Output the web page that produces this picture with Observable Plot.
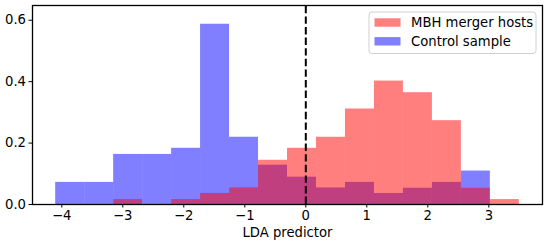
<!DOCTYPE html>
<html>
<head>
<meta charset="utf-8">
<script src="https://cdn.jsdelivr.net/npm/d3@7"></script>
<script src="https://cdn.jsdelivr.net/npm/@observablehq/plot@0.6"></script>
<style>
  html, body { margin: 0; padding: 0; background: white; }
  #chart svg text { font-size: 13.2px !important; font-family: "DejaVu Sans", sans-serif !important; }
</style>
</head>
<body>
<div id="chart"></div>
<script>
// Histogram bin edges (LDA predictor)
const binEdges = [-4.10, -3.625, -3.15, -2.675, -2.20, -1.725, -1.25, -0.775, -0.30,
                  0.175, 0.65, 1.125, 1.60, 2.075, 2.55, 3.025, 3.50];
// Normalised densities per bin
const mergerHosts = [0, 0, 0.016, 0, 0.016, 0.036, 0.054, 0.144, 0.183, 0.219,
                     0.311, 0.402, 0.364, 0.273, 0.053, 0.016];
const controlSample = [0.072, 0.072, 0.163, 0.163, 0.183, 0.587, 0.219, 0.128, 0.089,
                       0.054, 0.072, 0.036, 0.053, 0.072, 0.109, 0];
const seriesNames = ["MBH merger hosts", "Control sample"];
const xTicks = [-4, -3, -2, -1, 0, 1, 2, 3];
const yTicks = [0, 0.2, 0.4, 0.6];
const xLabel = "LDA predictor";
const threshold = 0;

const toBins = vals => vals.map((v, i) => ({x1: binEdges[i], x2: binEdges[i + 1], y: v}));
const redBins = toBins(mergerHosts);
const blueBins = toBins(controlSample);

const width = 548, height = 245;
const marginLeft = 32, marginRight = 6, marginTop = 5, marginBottom = 41;

const plot = Plot.plot({
  width, height,
  marginLeft, marginRight, marginTop, marginBottom,
  style: {fontFamily: "DejaVu Sans", fontSize: "13.2px", color: "black", background: "white", overflow: "visible"},
  x: {domain: [-4.48, 3.88], label: null},
  y: {domain: [0, 0.648], label: null},
  marks: [
    Plot.rectY(blueBins, {x1: "x1", x2: "x2", y: "y", fill: "blue", fillOpacity: 0.5, inset: 0}),
    Plot.rectY(redBins, {x1: "x1", x2: "x2", y: "y", fill: "red", fillOpacity: 0.5, inset: 0}),
    Plot.ruleX([threshold], {y1: 0, y2: 0.648, stroke: "black", strokeWidth: 2, strokeDasharray: "7.4,3.2"}),
    Plot.frame({stroke: "black", strokeWidth: 1.3}),
    Plot.axisX({ticks: xTicks, tickFormat: d3.format("d"), tickSize: 3.5, tickPadding: 2.5, label: null}),
    Plot.axisY({ticks: yTicks, tickFormat: d3.format(".1f"), tickSize: 3.5, tickPadding: 3, label: null}),
    Plot.text([xLabel], {frameAnchor: "bottom", text: d => d, dy: 28, lineAnchor: "middle", fill: "black"})
  ]
});

document.getElementById("chart").appendChild(plot);

// Legend (upper right, inside axes)
const svg = d3.select(plot);
const lg = svg.append("g").attr("font-family", "DejaVu Sans").attr("font-size", "13.2px").attr("text-anchor", "start");
lg.append("rect").attr("x", 369).attr("y", 12).attr("width", 167).attr("height", 41.5)
  .attr("rx", 3).attr("fill", "white").attr("fill-opacity", 0.8).attr("stroke", "#d0d0d0").attr("stroke-width", 1);
const legendColors = ["red", "blue"];
seriesNames.forEach((name, i) => {
  const cy = 22.5 + i * 18.8;
  lg.append("rect").attr("x", 374.5).attr("y", cy - 4.2).attr("width", 26).attr("height", 8.4)
    .attr("fill", legendColors[i]).attr("fill-opacity", 0.5);
  lg.append("text").attr("x", 411).attr("y", cy).attr("dy", "0.36em").attr("text-anchor", "start")
    .attr("fill", "black").text(name);
});
</script>
</body>
</html>
